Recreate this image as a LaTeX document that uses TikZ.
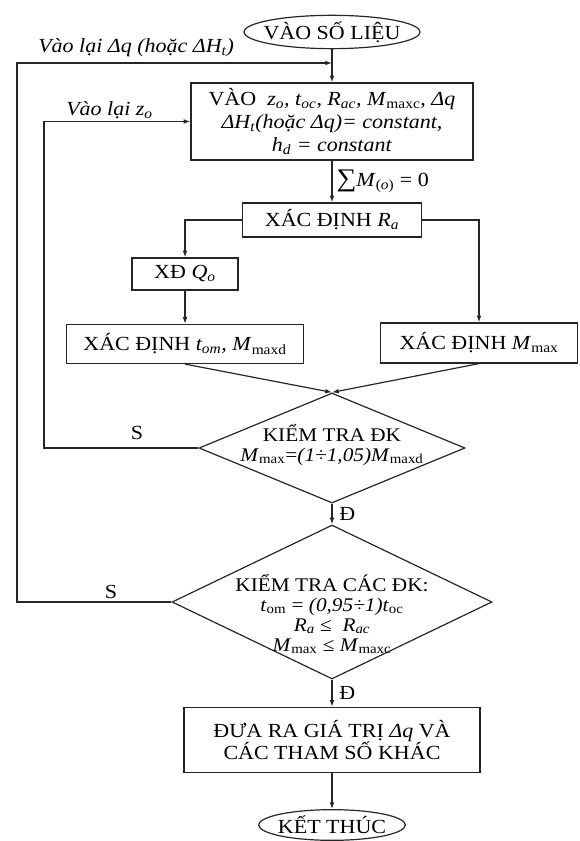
\documentclass[tikz,border=0pt]{standalone}
\usepackage{fontspec}
\setmainfont{Liberation Serif}[FakeStretch=1.1]
\usetikzlibrary{shapes.geometric,arrows.meta}
\newcommand{\idx}[1]{\textsubscript{#1}}

\begin{document}
\begin{tikzpicture}[x=0.75pt,y=0.75pt,yscale=-1,xscale=1,
	every node/.style={font=\fontsize{15}{17}\selectfont},
	line/.style={draw=black!85,line width=0.9pt},
	arr/.style={line,-{Latex[length=5pt,width=3.5pt]}},
	blk/.style={line,rectangle,inner sep=0pt,align=center},
	term/.style={line,ellipse,inner sep=0pt},
	cond/.style={line,diamond,inner sep=0pt},
	condtxt/.style={align=center,font=\fontsize{14.5}{15}\selectfont}]
	\useasboundingbox (0,0) rectangle (579,841);
	
	%Shape: Ellipse [start]
	\node [term,minimum width=132pt,minimum height=25pt,label=center:{VÀO SỐ LIỆU}] (start) at (332,32) {};
	%Shape: Rectangle [input]
	\node [blk,minimum width=211.5pt,minimum height=57.75pt] (inp) at (332,121.5) {VÀO \ \textit{z\idx{o}, t\idx{oc}, R\idx{ac}, M}\idx{maxc}\textit{, Δq}\\ \textit{ΔH\idx{t}(hoặc Δq)= constant,}\\ \textit{h\idx{d} = constant}};
	%Shape: Rectangle [Ra]
	\node [blk,minimum width=134.25pt,minimum height=25.5pt] (ra) at (332,220) {XÁC ĐỊNH \textit{R\idx{a}}};
	%Shape: Rectangle [Qo]
	\node [blk,minimum width=79.5pt,minimum height=24pt] (qo) at (185,274) {XĐ \textit{Q\idx{o}}};
	%Shape: Rectangle [tom]
	\node [blk,minimum width=177.75pt,minimum height=29.25pt] (tom) at (185,344) {XÁC ĐỊNH \textit{t\idx{om},} \textit{M}\idx{maxd}};
	%Shape: Rectangle [Mmax]
	\node [blk,minimum width=147.75pt,minimum height=30pt] (mmax) at (479,343) {XÁC ĐỊNH \textit{M}\idx{max}};
	%Shape: Diamond [check 1]
	\node [cond,minimum width=199.5pt,minimum height=82.5pt,
		label={[condtxt,yshift=2.6pt]center:{KIỂM TRA ĐK\\ \textit{M}\idx{max}=\textit{(1÷1,05)M}\idx{maxd}}}] (chk1) at (332,448) {};
	%Shape: Diamond [check 2]
	\node [cond,minimum width=240pt,minimum height=115.5pt,
		label={[condtxt,yshift=-9pt]center:{KIỂM TRA CÁC ĐK:\\ \textit{t}\idx{om} = \textit{(0,95÷1)t}\idx{oc}\\ \textit{R\idx{a}} ≤ \ \textit{R\idx{ac}}\\ \textit{M}\idx{max} ≤ \textit{M}\idx{maxc}}}] (chk2) at (332,602) {};
	%Shape: Rectangle [output]
	\node [blk,minimum width=222pt,minimum height=48.75pt] (out) at (332,740) {ĐƯA RA GIÁ TRỊ \textit{Δq} VÀ\\ CÁC THAM SỐ KHÁC};
	%Shape: Ellipse [stop]
	\node [term,minimum width=110pt,minimum height=23pt,label=center:{KẾT THÚC}] (stop) at (332,825) {};
	
	\coordinate (j1) at (332,63);
	\coordinate (lp1) at (17,63);
	\coordinate (lp2) at (44,121.5);
	
	% Connectors
	\draw [arr] (start) -- (inp);
	\draw [arr] (chk2.west) -| (lp1) -- (j1);
	\draw [arr] (chk1.west) -| (lp2) -- (inp.west);
	\draw [arr] (inp) -- node [right,inner sep=3pt] (sum) {{\fontsize{19}{19}\selectfont ∑}\textit{M}\idx{(\textit{o})} = 0} (ra);
	\draw [arr] (ra.west) -| (qo.north);
	\draw [arr] (ra.east) -| (mmax.north);
	\draw [arr] (qo) -- (tom);
	\draw [arr] (tom.south) -- (chk1.north);
	\draw [arr] (mmax.south) -- (chk1.north);
	\draw [arr] (chk1) -- node [right,inner sep=5pt] (yes1) {Đ} (chk2);
	\draw [arr] (chk2) -- node [right,inner sep=5pt] (yes2) {Đ} (out);
	\draw [arr] (out) -- (stop);
	
	% Text Node
	\draw (37,48) node [anchor=west][inner sep=0.75pt] (lbldq) {\textit{Vào lại Δq (hoặc ΔH\idx{t})}};
	% Text Node
	\draw (65,110) node [anchor=west][inner sep=0.75pt] (lblzo) {\textit{Vào lại z\idx{o}}};
	% Text Node
	\draw (137,433) node [inner sep=0.75pt] (no1) {S};
	% Text Node
	\draw (111,592) node [inner sep=0.75pt] (no2) {S};
	
\end{tikzpicture}
\end{document}
